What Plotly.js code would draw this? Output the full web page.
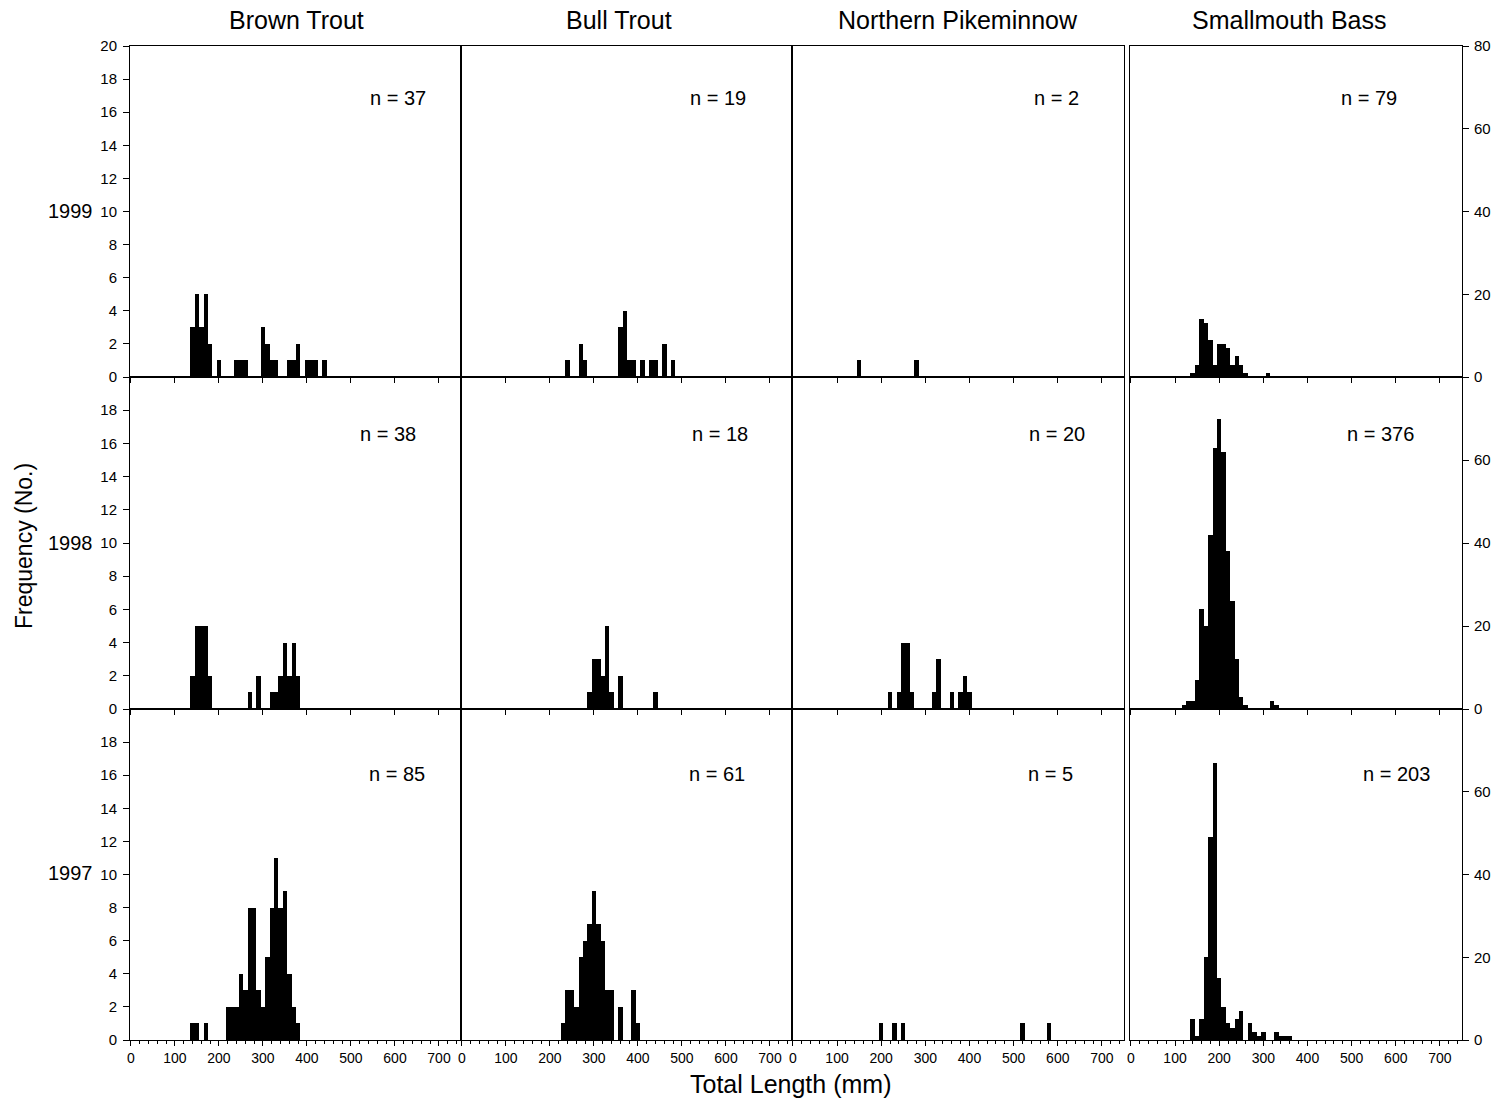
<!DOCTYPE html>
<html>
<head>
<meta charset="utf-8">
<script src="https://cdn.plot.ly/plotly-3.0.1.min.js"></script>
<style>html,body{margin:0;padding:0;background:#fff;}#chart{width:1502px;height:1107px;}</style>
</head>
<body>
<div id="chart"></div>
<script>
// ---- data (bin centres in mm, counts) ----
const species = ['Brown Trout', 'Bull Trout', 'Northern Pikeminnow', 'Smallmouth Bass'];
const years = ['1999', '1998', '1997'];

const brown1999_len  = [140,150,160,170,180,200,240,250,260,300,310,320,330,360,370,380,400,410,420,440];
const brown1999_freq = [3,5,3,5,2,1,1,1,1,3,2,1,1,1,1,2,1,1,1,1];
const bull1999_len   = [240,270,280,360,370,380,390,410,430,440,460,480];
const bull1999_freq  = [1,2,1,3,4,1,1,1,1,1,2,1];
const pike1999_len   = [150,280];
const pike1999_freq  = [1,1];
const bass1999_len   = [140,150,160,170,180,190,200,210,220,230,240,250,260,310];
const bass1999_freq  = [1,3,14,13,9,3,8,8,7,3,5,3,1,1];

const brown1998_len  = [140,150,160,170,180,270,290,320,330,340,350,360,370,380];
const brown1998_freq = [2,5,5,5,2,1,2,1,1,2,4,2,4,2];
const bull1998_len   = [290,300,310,320,330,340,360,440];
const bull1998_freq  = [1,3,3,2,5,1,2,1];
const pike1998_len   = [220,240,250,260,270,320,330,360,380,390,400];
const pike1998_freq  = [1,1,4,4,1,1,3,1,1,2,1];
const bass1998_len   = [120,130,140,150,160,170,180,190,200,210,220,230,240,250,260,320,330];
const bass1998_freq  = [1,2,2,7,24,20,42,63,70,62,38,26,12,3,1,2,1];

const brown1997_len  = [140,150,170,220,230,240,250,260,270,280,290,300,310,320,330,340,350,360,370,380];
const brown1997_freq = [1,1,1,2,2,2,4,3,8,8,3,2,5,8,11,8,9,4,2,1];
const bull1997_len   = [230,240,250,260,270,280,290,300,310,320,330,340,360,390,400];
const bull1997_freq  = [1,3,3,2,5,6,7,9,7,6,3,3,2,3,1];
const pike1997_len   = [200,230,250,520,580];
const pike1997_freq  = [1,1,1,1,1];
const bass1997_len   = [140,150,160,170,180,190,200,210,220,230,240,250,270,280,290,300,330,340,350,360];
const bass1997_freq  = [5,1,5,20,49,67,15,8,4,3,5,7,4,2,1,2,2,1,1,1];

const nLabels = [
  ['n = 37', 'n = 19', 'n = 2',  'n = 79'],
  ['n = 38', 'n = 18', 'n = 20', 'n = 376'],
  ['n = 85', 'n = 61', 'n = 5',  'n = 203']
];
const xTicks = [0,100,200,300,400,500,600,700];
const leftTicksTop = [0,2,4,6,8,10,12,14,16,18,20];
const leftTicks = [0,2,4,6,8,10,12,14,16,18];
const rightTicksTop = [0,20,40,60,80];
const rightTicks = [0,20,40,60];

const panels = [
  [[brown1999_len, brown1999_freq], [bull1999_len, bull1999_freq], [pike1999_len, pike1999_freq], [bass1999_len, bass1999_freq]],
  [[brown1998_len, brown1998_freq], [bull1998_len, bull1998_freq], [pike1998_len, pike1998_freq], [bass1998_len, bass1998_freq]],
  [[brown1997_len, brown1997_freq], [bull1997_len, bull1997_freq], [pike1997_len, pike1997_freq], [bass1997_len, bass1997_freq]]
];

// ---- layout geometry (pixels) ----
const W = 1502, H = 1107;
const colPx = [[130, 461], [461, 792], [792, 1124], [1130, 1462]];
const rowPx = [[46, 377], [377, 709], [709, 1040]];
const labelPos = [ // n-label centres in pixels
  [[398, 98], [718, 98], [1056, 98], [1369, 98]],
  [[388, 434], [720, 434], [1057, 434], [1380, 434]],
  [[397, 774], [717, 774], [1050, 774], [1396, 774]]
];
const FONT = 'Arial, "Liberation Sans", Helvetica, sans-serif';

const px2x = p => p / W;
const px2y = p => 1 - p / H;

const traces = [];
const layout = {
  width: W, height: H,
  margin: {l: 0, r: 0, t: 0, b: 0},
  paper_bgcolor: '#fff', plot_bgcolor: '#fff',
  showlegend: false,
  bargap: 0,
  font: {family: FONT, color: '#000', size: 15},
  annotations: []
};

for (let r = 0; r < 3; r++) {
  for (let c = 0; c < 4; c++) {
    const i = r * 4 + c + 1;
    const xa = 'xaxis' + (i === 1 ? '' : i), ya = 'yaxis' + (i === 1 ? '' : i);
    const xid = 'x' + (i === 1 ? '' : i), yid = 'y' + (i === 1 ? '' : i);
    const [lens, freqs] = panels[r][c];
    traces.push({
      type: 'bar', x: lens, y: freqs, width: 10,
      xaxis: xid, yaxis: yid,
      marker: {color: '#000', line: {width: 0}},
      hoverinfo: 'x+y'
    });
    const bottom = r === 2;
    layout[xa] = {
      domain: [px2x(colPx[c][0]), px2x(colPx[c][1])],
      anchor: yid,
      range: [-2, 750],
      tickvals: xTicks,
      ticks: 'outside', ticklen: 5, tickwidth: 1, tickcolor: '#000',
      showticklabels: bottom,
      tickfont: {size: 14, family: FONT},
      showline: true, mirror: true, linecolor: '#000', linewidth: 1,
      showgrid: false, zeroline: false, fixedrange: true,
      minor: bottom ? {dtick: 20, tick0: 0, ticks: 'outside', ticklen: 3, tickcolor: '#000', showgrid: false} : undefined
    };
    const isBass = c === 3;
    const yax = {
      domain: [px2y(rowPx[r][1]), px2y(rowPx[r][0])],
      anchor: xid,
      range: isBass ? [0, 80] : [0, 20],
      showline: true, mirror: true, linecolor: '#000', linewidth: 1,
      showgrid: false, zeroline: false, fixedrange: true,
      tickfont: {size: 15, family: FONT}
    };
    if (c === 0) {
      Object.assign(yax, {side: 'left', tickvals: r === 0 ? leftTicksTop : leftTicks,
        ticks: 'outside', ticklen: 6, tickcolor: '#000', showticklabels: true, ticklabelstandoff: 3});
    } else if (isBass) {
      Object.assign(yax, {side: 'right', tickvals: r === 0 ? rightTicksTop : rightTicks,
        ticks: 'outside', ticklen: 6, tickcolor: '#000', showticklabels: true, ticklabelstandoff: 2});
    } else {
      Object.assign(yax, {ticks: '', showticklabels: false});
    }
    layout[ya] = yax;

    layout.annotations.push({
      text: nLabels[r][c], xref: 'paper', yref: 'paper',
      x: px2x(labelPos[r][c][0]), y: px2y(labelPos[r][c][1]),
      xanchor: 'center', yanchor: 'middle', showarrow: false,
      font: {size: 20, family: FONT, color: '#000'}
    });
  }
}

// column titles
const titleX = [296, 619, 958, 1289];
species.forEach((s, c) => layout.annotations.push({
  text: s, xref: 'paper', yref: 'paper', x: px2x(titleX[c]), y: px2y(20),
  xanchor: 'center', yanchor: 'middle', showarrow: false,
  font: {size: 25, family: FONT, color: '#000'}
}));
// row (year) labels
const yearY = [211, 543, 873];
years.forEach((y, r) => layout.annotations.push({
  text: y, xref: 'paper', yref: 'paper', x: px2x(95), y: px2y(yearY[r]),
  xanchor: 'right', yanchor: 'middle', showarrow: false,
  font: {size: 20, family: FONT, color: '#000'}
}));
// axis titles
layout.annotations.push({
  text: 'Frequency (No.)', xref: 'paper', yref: 'paper', x: px2x(24), y: px2y(546),
  xanchor: 'center', yanchor: 'middle', textangle: -90, showarrow: false,
  font: {size: 23, family: FONT, color: '#000'}
});
layout.annotations.push({
  text: 'Total Length (mm)', xref: 'paper', yref: 'paper', x: px2x(790), y: px2y(1084),
  xanchor: 'center', yanchor: 'middle', showarrow: false,
  font: {size: 25, family: FONT, color: '#000'}
});

Plotly.newPlot('chart', traces, layout, {staticPlot: true, displayModeBar: false});
</script>
</body>
</html>
